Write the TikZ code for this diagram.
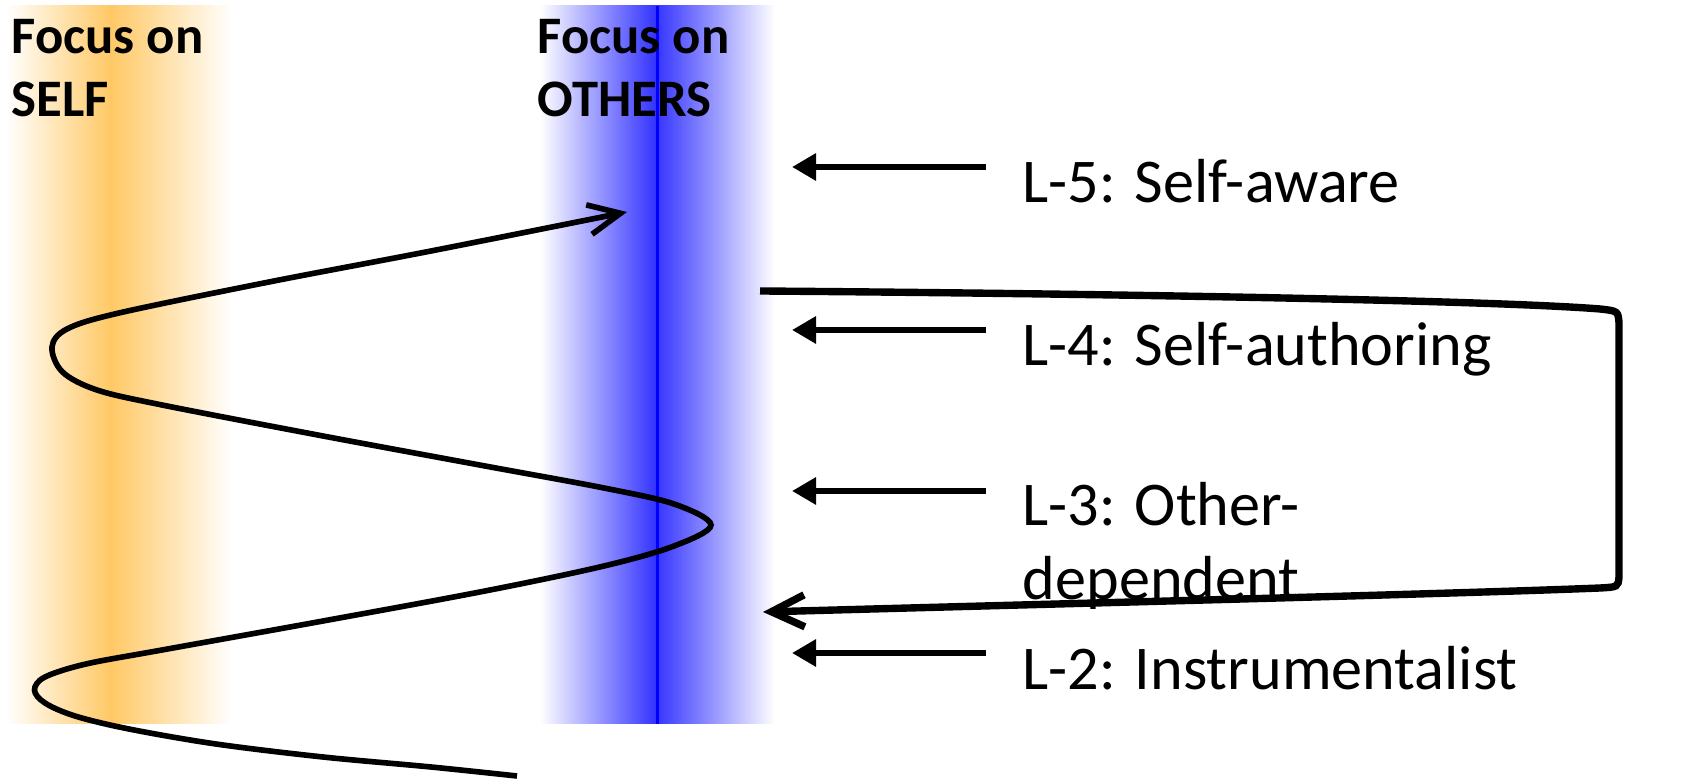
\documentclass[tikz,border=0pt]{standalone}
\usepackage{fontspec}
\setmainfont{Carlito}
\usetikzlibrary{arrows.meta,positioning}
\definecolor{selfOrange}{RGB}{255,200,100}
\definecolor{othersBlue}{RGB}{0,0,255}

\begin{document}
\begin{tikzpicture}[
    levelname/.style={font=\fontsize{17.7}{21.3}\selectfont,align=left,inner sep=0pt},
    focushead/.style={font=\fontsize{15}{18.2}\selectfont\bfseries,align=left,inner sep=0pt},
    levelarrow/.style={line width=1.85pt,-{Triangle[length=2.4mm,width=2.6mm]}},
    spiral/.style={line width=1.6pt,-{Straight Barb[length=3.2mm,width=3mm]}},
    backloop/.style={line width=2.1pt,-{Straight Barb[length=3.3mm,width=3.2mm]}}]

  \useasboundingbox (0,0) rectangle (16.9,7.83);
  \fill[white] (0,0) rectangle (16.9,7.83);

  % the two focus bands
  \shade[left color=white,right color=selfOrange] (0.06,0.59) rectangle (1.12,7.77);
  \shade[left color=selfOrange,right color=white] (1.10,0.59) rectangle (2.32,7.77);
  \shade[left color=white,right color=othersBlue!80] (5.40,0.59) rectangle (6.56,7.77);
  \shade[left color=othersBlue!80,right color=white] (6.55,0.59) rectangle (7.75,7.77);
  \fill[othersBlue] (6.56,0.59) rectangle (6.585,7.77);

  \node[focushead,anchor=base west] (self) at (0.11,6.66) {Focus on\\SELF};
  \node[focushead,anchor=base west] (others) at (5.37,6.66) {Focus on\\OTHERS};

  % swinging between self and others
  \draw[spiral] plot[smooth,tension=0.55] coordinates {
    (5.17,0.07) (4.31,0.16) (3.23,0.26) (2.16,0.39) (1.29,0.54) (0.75,0.67)
    (0.45,0.80) (0.345,0.93) (0.45,1.06) (0.86,1.19) (1.62,1.33) (3.23,1.62)
    (4.85,1.92) (6.04,2.17) (6.74,2.37) (7.11,2.58) (6.74,2.79) (6.04,2.95)
    (4.85,3.17) (3.23,3.47) (1.62,3.78) (0.97,3.93) (0.625,4.11) (0.52,4.36)
    (0.67,4.54) (1.19,4.70) (2.69,5.01) (4.31,5.32) (6.27,5.71)};

  % levels
  \foreach \n/\bl/\ay/\txt in {5/5.80/6.16/{Self-aware},4/4.17/4.53/{Self-authoring},
                               3/1.83/2.92/{Other-\\dependent},2/0.93/1.30/{Instrumentalist}}{
    \node[levelname,anchor=base west] (lv\n) at (10.22,\bl) {L-\n: \txt};
    \coordinate (tail\n) at (9.86,\ay);
    \coordinate (tip\n) at (7.92,\ay);
    \draw[levelarrow] (tail\n) -- (tip\n);
  }

  % falling back from L-4
  \coordinate (loopstart) at (7.60,4.92);
  \coordinate (loopend) at (7.63,1.71);
  \draw[backloop] (loopstart) .. controls (11.5,4.89) and (15.0,4.82) .. (16.0,4.74)
    .. controls (16.18,4.72) .. (16.19,4.60) -- (16.19,2.06)
    .. controls (16.18,1.96) .. (16.0,1.95)
    .. controls (14.5,1.89) and (10.5,1.79) .. (loopend);

\end{tikzpicture}
\end{document}
